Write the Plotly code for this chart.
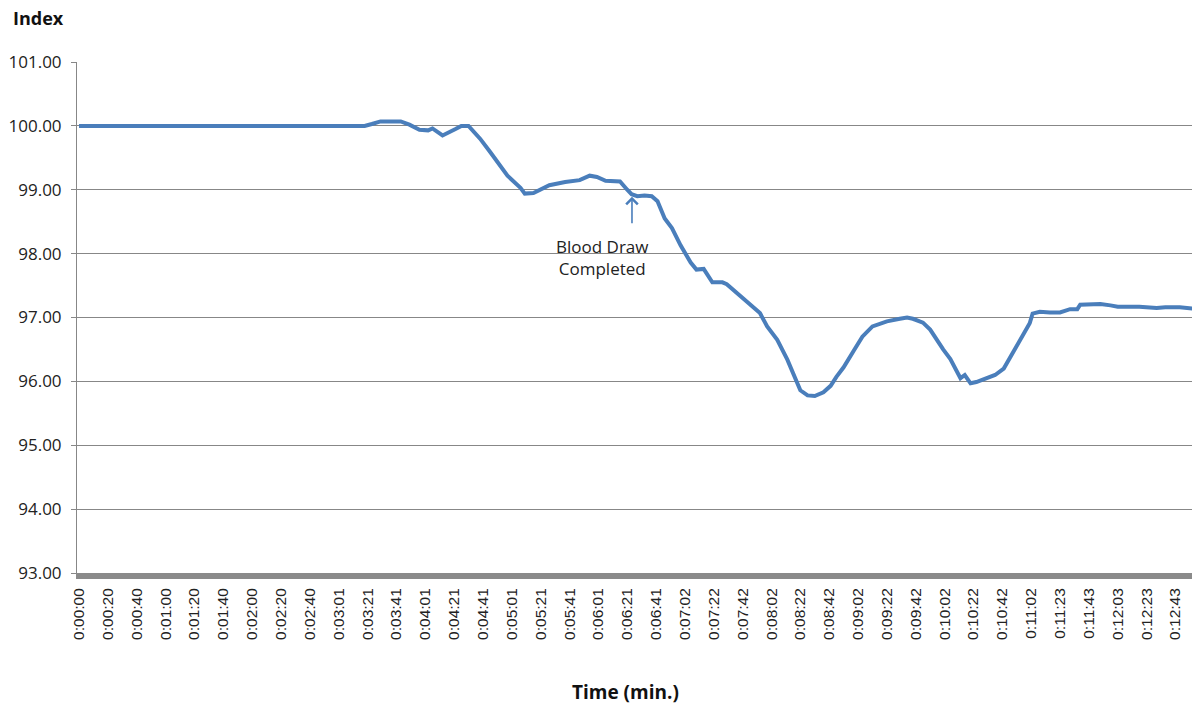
import plotly.graph_objects as go

# Elapsed time (seconds) and index values
elapsed_s = [0, 198, 203, 209, 223, 229, 236, 242, 245, 252, 261, 265, 270, 278, 285,
             292, 297, 306, 309, 315, 320, 326, 337, 347, 354, 359, 365, 375, 380, 383,
             387, 392, 397, 401, 406, 411, 417, 424, 428, 433, 439, 446, 449, 456, 465,
             472, 477, 484, 491, 496, 500, 505, 510, 516, 521, 525, 530, 537, 543, 550,
             560, 569, 574, 578, 585, 590, 595, 599, 604, 609, 611, 614, 618, 622, 629,
             635, 641, 645, 650, 654, 659, 661, 666, 673, 680, 687, 692, 694, 701, 708,
             715, 720, 735, 747, 753, 763, 772]
index_vals = [100.00, 100.00, 100.03, 100.07, 100.07, 100.02, 99.94, 99.93, 99.96, 99.85,
              99.95, 100.00, 100.00, 99.80, 99.59, 99.38, 99.22, 99.03, 98.94, 98.95,
              99.01, 99.07, 99.12, 99.15, 99.22, 99.20, 99.14, 99.13, 99.00, 98.93,
              98.90, 98.91, 98.90, 98.82, 98.55, 98.40, 98.13, 97.86, 97.75, 97.76,
              97.55, 97.55, 97.52, 97.38, 97.20, 97.07, 96.86, 96.65, 96.34, 96.07,
              95.86, 95.78, 95.77, 95.83, 95.93, 96.07, 96.22, 96.48, 96.70, 96.86,
              96.94, 96.98, 97.00, 96.98, 96.92, 96.81, 96.63, 96.50, 96.35, 96.13,
              96.05, 96.10, 95.97, 95.99, 96.05, 96.10, 96.20, 96.36, 96.54, 96.72,
              96.91, 97.06, 97.09, 97.08, 97.08, 97.13, 97.13, 97.20, 97.20, 97.21,
              97.19, 97.17, 97.17, 97.15, 97.16, 97.16, 97.14]

# Category tick labels (every 20th sample)
tick_labels = ["0:00:00", "0:00:20", "0:00:40", "0:01:00", "0:01:20", "0:01:40", "0:02:00",
               "0:02:20", "0:02:40", "0:03:01", "0:03:21", "0:03:41", "0:04:01", "0:04:21",
               "0:04:41", "0:05:01", "0:05:21", "0:05:41", "0:06:01", "0:06:21", "0:06:41",
               "0:07:02", "0:07:22", "0:07:42", "0:08:02", "0:08:22", "0:08:42", "0:09:02",
               "0:09:22", "0:09:42", "0:10:02", "0:10:22", "0:10:42", "0:11:02", "0:11:23",
               "0:11:43", "0:12:03", "0:12:23", "0:12:43"]
tick_positions = [i * 20 for i in range(len(tick_labels))]

event_time = 383.3
event_value = 98.89
event_label = "Blood Draw<br>Completed"

LINE = "#4A7EBB"
GRID = "#878787"

fig = go.Figure()
fig.add_trace(go.Scatter(x=elapsed_s, y=index_vals, mode="lines",
                         line=dict(color=LINE, width=4), showlegend=False,
                         hoverinfo="x+y"))

fig.update_layout(
    width=1192, height=709,
    margin=dict(l=77, r=0, t=62, b=136),
    paper_bgcolor="white", plot_bgcolor="white",
    xaxis=dict(range=[-1.4, 771.5], tickvals=tick_positions, ticktext=tick_labels,
               tickangle=-90, showgrid=False, zeroline=False,
               showline=True, linecolor="#8a8a8a", linewidth=6,
               ticks="", ticklabelstandoff=3,
               tickfont=dict(family="Liberation Sans, Arial", size=15.5, color="#222")),
    yaxis=dict(range=[93, 101], dtick=1, tickformat=".2f",
               showgrid=True, gridcolor=GRID, gridwidth=1, zeroline=False,
               showline=True, linecolor=GRID, linewidth=1,
               ticks="outside", ticklen=5, tickcolor=GRID, ticklabelstandoff=6,
               tickfont=dict(family="Open Sans", size=17, color="#222")),
    annotations=[
        dict(text="<b>Index</b>", xref="paper", yref="paper", x=-0.0592, y=1.086,
             xanchor="left", yanchor="middle", showarrow=False,
             font=dict(family="Open Sans", size=18, color="#111")),
        dict(text="<b>Time (min.)</b>", xref="paper", yref="paper", x=0.4915, y=-0.2329,
             xanchor="center", yanchor="middle", showarrow=False,
             font=dict(family="Open Sans", size=19, color="#111")),
        dict(text=event_label, x=362.5, y=97.947, xref="x", yref="y",
             xanchor="center", yanchor="middle", showarrow=False,
             font=dict(family="Open Sans", size=17, color="#222")),
        dict(text="", x=event_time, y=event_value, xref="x", yref="y",
             showarrow=True, ax=0, ay=28, arrowhead=4, arrowsize=1.4,
             arrowwidth=1.6, arrowcolor=LINE, standoff=0),
    ],
)

fig.write_html("out.html", config={"displayModeBar": False},
               post_script="document.body.style.margin='0';document.body.style.overflow='hidden';")
